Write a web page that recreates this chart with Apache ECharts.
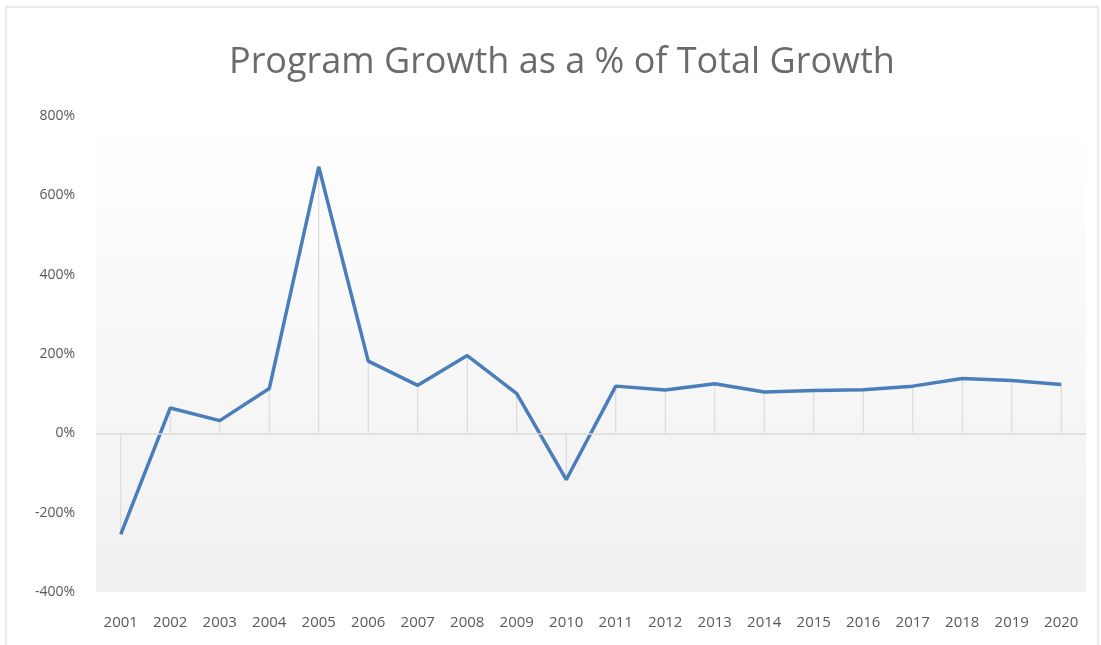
<!DOCTYPE html>
<html><head><meta charset="utf-8">
<script src="https://cdn.jsdelivr.net/npm/echarts@6/dist/echarts.min.js"></script>
<style>html,body{margin:0;padding:0;background:#fff;}#c{width:1101px;height:645px;}</style>
</head><body><div id="c"></div>
<script>
var years = ['2001','2002','2003','2004','2005','2006','2007','2008','2009','2010','2011','2012','2013','2014','2015','2016','2017','2018','2019','2020'];
var growthPct = [-255, 64, 32, 113, 672, 182, 121, 196, 100, -117, 119, 109, 125, 104, 108, 110, 119, 138, 133, 123];
var titleText = 'Program Growth as a % of Total Growth';

var chart = echarts.init(document.getElementById('c'));
chart.setOption({
  animation: false,
  backgroundColor: '#ffffff',
  title: {
    text: titleText, left: 224, top: 40,
    textStyle: {fontFamily: 'Open Sans', fontWeight: 'normal', fontSize: 36, color: '#6b6b6b'}
  },
  graphic: [{
    type: 'rect', silent: true, z: -1,
    shape: {x: 6, y: 7, width: 1092, height: 660},
    style: {fill: 'none', stroke: '#e3e3e3', lineWidth: 1.5}
  }],
  grid: {
    left: 96, right: 15, top: 116, bottom: 53, show: true, borderWidth: 0,
    outerBoundsMode: 'none', containLabel: false,
    backgroundColor: {type: 'linear', x: 0, y: 0, x2: 0, y2: 1,
      colorStops: [{offset: 0, color: '#ffffff'}, {offset: 1, color: '#f0f0f0'}]}
  },
  xAxis: {
    type: 'category', data: years, boundaryGap: true,
    axisLine: {show: false, onZero: false},
    axisTick: {show: false},
    axisLabel: {color: '#595959', fontSize: 15, fontFamily: 'Open Sans', margin: 23},
    splitLine: {show: false}
  },
  yAxis: {
    type: 'value', min: -400, max: 800, interval: 200,
    axisLine: {show: false}, axisTick: {show: false},
    splitLine: {show: false},
    axisLabel: {formatter: '{value}%', color: '#595959', fontSize: 14, fontFamily: 'Open Sans', margin: 21}
  },
  series: [{
    type: 'bar', data: growthPct, barWidth: 1, silent: true,
    itemStyle: {color: '#d6d6d6'}, z: 1,
    markLine: {
      silent: true, symbol: 'none', label: {show: false},
      lineStyle: {color: '#d9d9d9', width: 1.5, type: 'solid'},
      data: [{yAxis: 0}]
    }
  }, {
    type: 'line', data: growthPct, symbol: 'none', z: 3,
    lineStyle: {color: '#4a7ebb', width: 3.5}
  }]
});
</script></body></html>
